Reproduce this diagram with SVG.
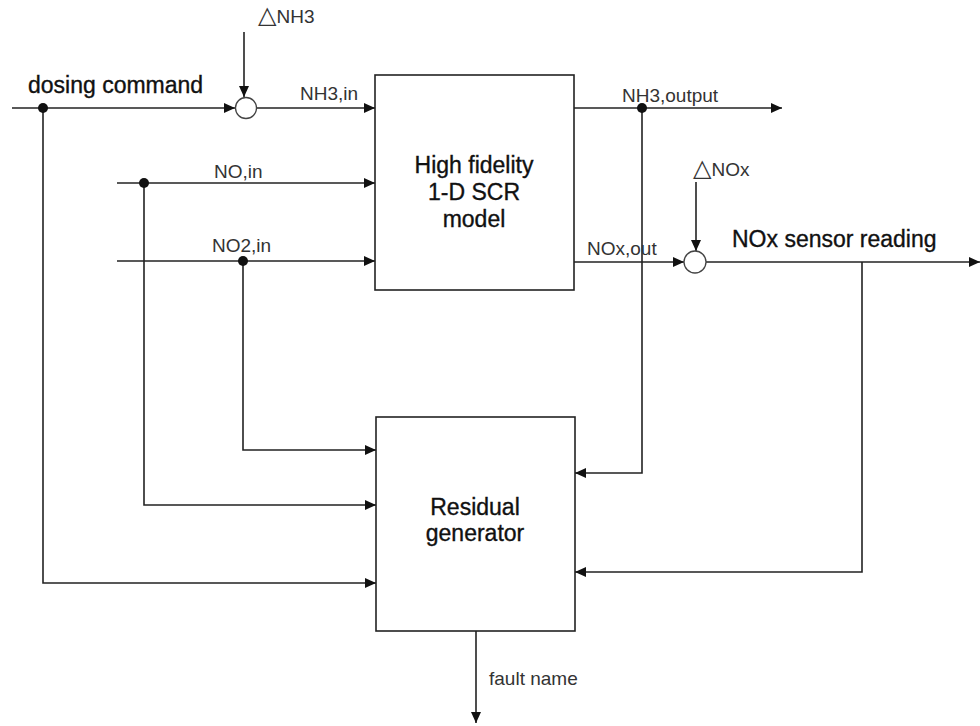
<svg xmlns="http://www.w3.org/2000/svg" width="980" height="726" viewBox="0 0 980 726">
<defs>
<marker id="arr" markerUnits="userSpaceOnUse" markerWidth="12" markerHeight="10" refX="11" refY="5" orient="auto">
<path d="M0,0 L11,5 L0,10 z" fill="#111"/>
</marker>
<style>
.ln{fill:none;stroke:#222;stroke-width:1.6}
.box{fill:#fff;stroke:#222;stroke-width:1.6}
.sum{fill:#fff;stroke:#444;stroke-width:1.3}
.dot{fill:#111}
.big{font-family:"Liberation Sans",Arial,sans-serif;font-size:23px;fill:#111;stroke:#111;stroke-width:0.35}
.sm{font-family:"Liberation Sans","DejaVu Sans",Arial,sans-serif;font-size:19px;fill:#333}
.tri{font-family:"DejaVu Sans",sans-serif;font-size:24px}
.mid{text-anchor:middle}
</style>
</defs>
<rect width="980" height="726" fill="#fff"/>

<g id="connectors">
<!-- dosing command -->
<path class="ln" d="M12,108 H235" marker-end="url(#arr)"/>
<path class="ln" d="M43,108 V583 H376" marker-end="url(#arr)"/>
<!-- delta NH3 -->
<path class="ln" d="M244,32 V97" marker-end="url(#arr)"/>
<!-- NH3,in -->
<path class="ln" d="M257,108 H375" marker-end="url(#arr)"/>
<!-- NO,in -->
<path class="ln" d="M117,183 H375" marker-end="url(#arr)"/>
<path class="ln" d="M144,183 V505 H376" marker-end="url(#arr)"/>
<!-- NO2,in -->
<path class="ln" d="M117,261 H375" marker-end="url(#arr)"/>
<path class="ln" d="M243,261 V450 H376" marker-end="url(#arr)"/>
<!-- NH3,output -->
<path class="ln" d="M574,108 H782" marker-end="url(#arr)"/>
<path class="ln" d="M642,108 V473 H575" marker-end="url(#arr)"/>
<!-- NOx,out -->
<path class="ln" d="M574,262 H684" marker-end="url(#arr)"/>
<!-- delta NOx -->
<path class="ln" d="M696,182 V251" marker-end="url(#arr)"/>
<!-- NOx sensor reading -->
<path class="ln" d="M706,262 H980" marker-end="url(#arr)"/>
<path class="ln" d="M862,262 V572 H575" marker-end="url(#arr)"/>
<!-- fault name -->
<path class="ln" d="M476,627 V723" marker-end="url(#arr)"/>
<circle class="dot" cx="43" cy="108" r="5"/>
<circle class="dot" cx="144" cy="183" r="5"/>
<circle class="dot" cx="243" cy="261" r="5"/>
<circle class="dot" cx="642" cy="108" r="5"/>
</g>

<g id="sum-nh3">
<circle class="sum" cx="246" cy="108" r="10.5"/>
</g>
<g id="sum-nox">
<circle class="sum" cx="695" cy="262" r="11"/>
</g>

<g id="scr-model">
<rect class="box" x="375" y="75" width="199" height="215"/>
<text class="big mid" x="474" y="173">High fidelity</text>
<text class="big mid" x="474" y="200">1-D SCR</text>
<text class="big mid" x="474" y="227">model</text>
</g>

<g id="residual-generator">
<rect class="box" x="376" y="417" width="199" height="214"/>
<text class="big mid" x="475" y="515">Residual</text>
<text class="big mid" x="475" y="541">generator</text>
</g>

<g id="labels">
<text class="big" x="28" y="93">dosing command</text>
<text class="big" x="732" y="247">NOx sensor reading</text>
<text class="sm" x="258" y="23"><tspan class="tri">△</tspan>NH3</text>
<text class="sm" x="693" y="176"><tspan class="tri">△</tspan>NOx</text>
<text class="sm" x="300" y="100">NH3,in</text>
<text class="sm" x="214" y="178">NO,in</text>
<text class="sm" x="212" y="252">NO2,in</text>
<text class="sm" x="622" y="102">NH3,output</text>
<text class="sm" x="587" y="255">NOx,out</text>
<text class="sm" x="489" y="685">fault name</text>
</g>
</svg>
